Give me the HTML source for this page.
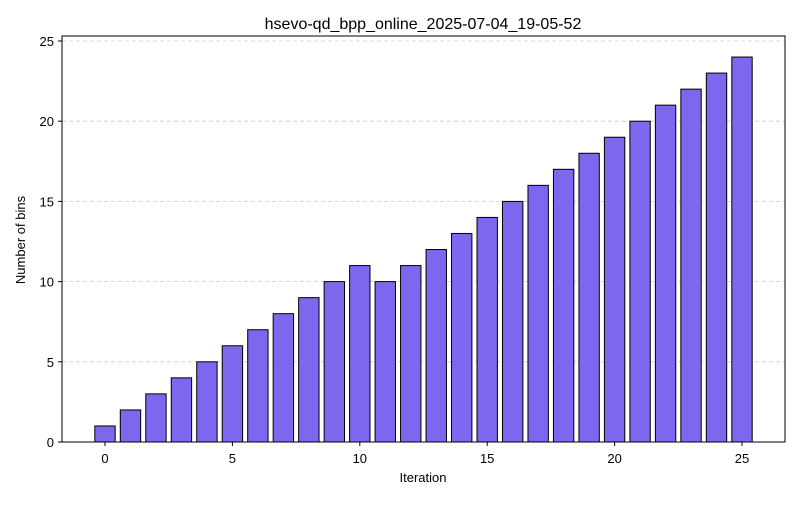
<!DOCTYPE html>
<html><head><meta charset="utf-8"><style>
body{margin:0;background:#fff;}
svg text{font-family:"Liberation Sans","DejaVu Sans",sans-serif;fill:#000;}
</style></head><body>
<svg id="chart" width="800" height="500">
<text x="423" y="29" font-size="16" text-anchor="middle">hsevo-qd_bpp_online_2025-07-04_19-05-52</text>
<g id="grid"></g><g id="bars"></g><g id="axes"></g>
<text x="423" y="482" font-size="13" text-anchor="middle">Iteration</text>
<text x="25" y="240" font-size="13" text-anchor="middle" transform="rotate(-90 25 240)">Number of bins</text>
</svg>
<script>
const iterations=[0,1,2,3,4,5,6,7,8,9,10,11,12,13,14,15,16,17,18,19,20,21,22,23,24,25];
const bins=[1,2,3,4,5,6,7,8,9,10,11,10,11,12,13,14,15,16,17,18,19,20,21,22,23,24];
const xTicks=[0,5,10,15,20,25];
const yTicks=[0,5,10,15,20,25];
const NS="http://www.w3.org/2000/svg";
const L=62,R=785,T=36,B=442;
const x=v=>105+(v-0)*(742-105)/25;
const y=v=>B-v*(B-41)/25;
const bw=0.8*(742-105)/25;
function mk(t,a,p){const e=document.createElementNS(NS,t);for(const k in a)e.setAttribute(k,a[k]);p.appendChild(e);return e;}
const grid=document.getElementById('grid'),bars=document.getElementById('bars'),axes=document.getElementById('axes');
yTicks.forEach(t=>{if(t>0){const g=mk('line',{x1:L,x2:R,y1:y(t),y2:y(t),stroke:'#ccc','stroke-dasharray':'4,3','stroke-width':0.8},grid);

}});
iterations.forEach((it,i)=>{const r=mk('rect',{x:x(it)-bw/2,y:y(bins[i]),width:bw,height:y(0)-y(bins[i]),fill:'#7b68ee',stroke:'#000','stroke-width':1},bars);

});
const f=mk('rect',{x:L,y:T,width:R-L,height:B-T,fill:'none',stroke:'#000','stroke-width':1},axes);


xTicks.forEach(t=>{mk('line',{x1:x(t),x2:x(t),y1:B,y2:B+4,stroke:'#000'},axes);
const tx=mk('text',{x:x(t),y:B+21,'font-size':13,'text-anchor':'middle'},axes);tx.textContent=t;

});
yTicks.forEach(t=>{mk('line',{x1:L-4,x2:L,y1:y(t),y2:y(t),stroke:'#000'},axes);
const tx=mk('text',{x:L-8,y:y(t)+5,'font-size':13,'text-anchor':'end'},axes);tx.textContent=t;

});
</script>
</body></html>
